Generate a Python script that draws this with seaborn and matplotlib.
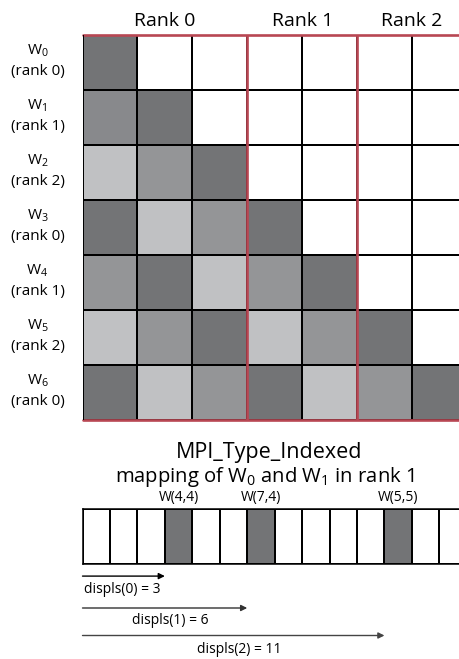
import numpy as np
import pandas as pd
import matplotlib
matplotlib.use("Agg")
import matplotlib.pyplot as plt
from matplotlib.colors import ListedColormap
import seaborn as sns

sns.set_style("white")
plt.rcParams['font.family'] = ['Open Sans', 'DejaVu Sans']
plt.rcParams['text.color'] = 'black'
plt.rcParams['mathtext.fontset'] = 'custom'
plt.rcParams['mathtext.rm'] = 'Open Sans'
plt.rcParams['mathtext.it'] = 'Open Sans'

# 0 = empty, 1 = light, 2 = medium, 3 = dark, 4 = medium-dark
grid = [
    [3, 0, 0, 0, 0, 0, 0],
    [4, 3, 0, 0, 0, 0, 0],
    [1, 2, 3, 0, 0, 0, 0],
    [3, 1, 2, 3, 0, 0, 0],
    [2, 3, 1, 2, 3, 0, 0],
    [1, 2, 3, 1, 2, 3, 0],
    [3, 1, 2, 3, 1, 2, 3],
]
row_ids = [0, 1, 2, 3, 4, 5, 6]
row_ranks = [0, 1, 2, 0, 1, 2, 0]
rank_names = ["Rank 0", "Rank 1", "Rank 2"]
rank_edges = [0, 3, 5, 7]

strip_len = 14
strip_marked = [3, 6, 11]
strip_labels = ["W(4,4)", "W(7,4)", "W(5,5)"]
displs = [3, 6, 11]

colors = ['#ffffff', '#c0c1c3', '#949597', '#737476', '#88898c']
cmap = ListedColormap(colors)
red = '#b84753'

W, H = 459, 659
fig = plt.figure(figsize=(W / 100, H / 100), dpi=100)

def px_axes(left, top, width, height):
    return fig.add_axes([left / W, 1 - (top + height) / H, width / W, height / H])

# main triangular grid
ax = px_axes(82.5, 35, 384.5, 385)
df = pd.DataFrame(grid)
sns.heatmap(df, ax=ax, cmap=cmap, vmin=-0.5, vmax=4.5, cbar=False,
            linewidths=1.1, linecolor='black', square=False)
ax.set_xticks([])
ax.set_yticks([])
for s in ax.spines.values():
    s.set_visible(False)
ax.axhline(0, color=red, lw=1.9, clip_on=False)
ax.axhline(len(grid), color=red, lw=1.9, clip_on=False)
ax.axvline(0, color='black', lw=1.4)
for e in rank_edges[1:-1]:
    ax.axvline(e, color=red, lw=1.9)

for i, name in enumerate(rank_names):
    cx = (rank_edges[i] + rank_edges[i + 1]) / 2
    ax.text(cx, -0.16, name, ha='center', va='baseline', fontsize=14,
            clip_on=False)

for r, (wid, rk) in enumerate(zip(row_ids, row_ranks)):
    ax.text(-0.82, r + 0.47, f"W$_{{{wid}}}$\n(rank {rk})", ha='center',
            va='center', fontsize=11, linespacing=1.4, clip_on=False)

# titles
fig.text(269 / W, 1 - 458 / H, "MPI_Type_Indexed", ha='center',
         va='baseline', fontsize=15.5)
fig.text(265 / W, 1 - 482 / H, "mapping of W$_0$ and W$_1$ in rank 1",
         ha='center', va='baseline', fontsize=14.6)

# memory strip
ax2 = px_axes(82.5, 509, 384.3, 55)
strip = np.zeros((1, strip_len))
strip[0, strip_marked] = 3
sns.heatmap(strip, ax=ax2, cmap=cmap, vmin=-0.5, vmax=4.5, cbar=False,
            linewidths=1.1, linecolor='black')
ax2.set_xticks([])
ax2.set_yticks([])
for s in ax2.spines.values():
    s.set_visible(True)
    s.set_color('black')
    s.set_linewidth(1.1)
for idx, lab in zip(strip_marked, strip_labels):
    ax2.text(idx + 0.5, -0.08, lab, ha='center', va='bottom', fontsize=10,
             clip_on=False)

# displacement arrows
arrow_y = [1.22, 1.8, 2.3]
label_y = [1.47, 2.03, 2.56]
arrow_col = ['black', '#333333', '#444444']
for k, d in enumerate(displs):
    ax2.annotate("", xy=(d, arrow_y[k]), xytext=(0, arrow_y[k]),
                 arrowprops=dict(arrowstyle='-|>', color=arrow_col[k],
                                 lw=1.0, mutation_scale=9,
                                 shrinkA=0, shrinkB=0),
                 annotation_clip=False)
    if k == 0:
        ax2.text(0.06, label_y[k], f"displs({k}) = {d}", ha='left',
                 va='center', fontsize=10, clip_on=False)
    else:
        ax2.text(d / 2 + 0.2, label_y[k], f"displs({k}) = {d}",
                 ha='center', va='center', fontsize=10, clip_on=False)

fig.savefig("out.png", dpi=100)
